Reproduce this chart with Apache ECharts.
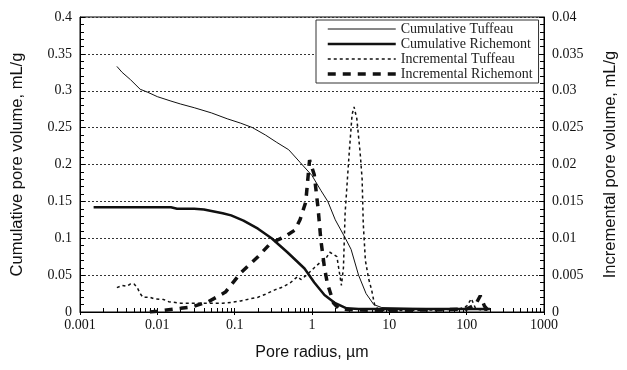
<!DOCTYPE html>
<html>
<head>
<meta charset="utf-8">
<script src="https://cdn.jsdelivr.net/npm/echarts@6/dist/echarts.min.js"></script>
<style>html,body{margin:0;padding:0;background:#fff}#c{width:627px;height:370px}</style>
</head>
<body>
<div id="c"></div>
<script>
// ---- data ----
var seriesNames = ['Cumulative Tuffeau', 'Cumulative Richemont', 'Incremental Tuffeau', 'Incremental Richemont'];
var xTickValues = [0.001, 0.01, 0.1, 1, 10, 100, 1000];
var xTickLabels = ['0.001', '0.01', '0.1', '1', '10', '100', '1000'];
var leftTickLabels = ['0', '0.05', '0.1', '0.15', '0.2', '0.25', '0.3', '0.35', '0.4'];
var rightTickLabels = ['0', '0.005', '0.01', '0.015', '0.02', '0.025', '0.03', '0.035', '0.04'];

var cumTuffR = [0.003, 0.0035, 0.0045, 0.006, 0.0075, 0.01, 0.015, 0.02, 0.03, 0.05, 0.08, 0.12, 0.17, 0.25, 0.35, 0.5, 0.7, 1.0, 1.3, 1.6, 2.0, 2.7, 3.2, 4.0, 5.0, 6.3, 8, 20, 100, 190];
var cumTuffV = [0.333, 0.325, 0.315, 0.302, 0.298, 0.292, 0.286, 0.282, 0.277, 0.270, 0.262, 0.256, 0.250, 0.240, 0.230, 0.220, 0.203, 0.185, 0.165, 0.150, 0.125, 0.100, 0.085, 0.050, 0.025, 0.010, 0.006, 0.005, 0.004, 0.003];

var cumRichR = [0.0015, 0.01, 0.015, 0.018, 0.03, 0.04, 0.05, 0.07, 0.09, 0.13, 0.2, 0.3, 0.48, 0.8, 1.07, 1.45, 2.0, 2.8, 4, 10, 100, 200];
var cumRichV = [0.142, 0.142, 0.142, 0.140, 0.140, 0.139, 0.137, 0.134, 0.131, 0.124, 0.113, 0.100, 0.081, 0.059, 0.040, 0.023, 0.012, 0.005, 0.004, 0.004, 0.004, 0.004];

var incTuffR = [0.003, 0.0035, 0.004, 0.0045, 0.005, 0.0055, 0.006, 0.0065, 0.008, 0.009, 0.012, 0.014, 0.02, 0.03, 0.05, 0.07, 0.09, 0.12, 0.16, 0.2, 0.25, 0.33, 0.42, 0.53, 0.6, 0.65, 0.72, 0.85, 1.07, 1.3, 1.5, 1.7, 1.9, 2.1, 2.25, 2.4, 2.55, 2.68, 3.0, 3.3, 3.5, 3.8, 4.2, 4.45, 4.6, 4.9, 5.4, 5.9, 6.5, 7.5, 10, 20, 50, 80, 100, 115, 130, 150, 200];
var incTuffV = [0.0033, 0.0036, 0.0035, 0.0038, 0.0038, 0.0033, 0.0025, 0.0020, 0.0020, 0.0018, 0.0017, 0.0014, 0.0012, 0.0012, 0.0012, 0.0012, 0.0013, 0.0015, 0.0018, 0.0020, 0.0024, 0.0030, 0.0034, 0.0040, 0.0045, 0.0048, 0.0044, 0.0050, 0.0060, 0.0068, 0.0072, 0.0081, 0.0078, 0.0075, 0.0055, 0.0036, 0.0060, 0.0134, 0.0210, 0.0268, 0.0278, 0.0262, 0.0215, 0.0180, 0.0120, 0.0070, 0.0045, 0.0030, 0.0008, 0.0002, 0.0002, 0.0002, 0.0003, 0.0004, 0.0008, 0.0018, 0.0005, 0.0003, 0.0002];

var incRichR = [0.008, 0.01, 0.014, 0.02, 0.028, 0.046, 0.076, 0.12, 0.2, 0.29, 0.44, 0.6, 0.7, 0.83, 0.93, 1.07, 1.2, 1.3, 1.45, 1.58, 1.9, 2.2, 3, 10, 50, 100, 130, 150, 170, 190];
var incRichV = [0, 0.0001, 0.0003, 0.0005, 0.0007, 0.0014, 0.0027, 0.0053, 0.0075, 0.0093, 0.0102, 0.0111, 0.0125, 0.0149, 0.0206, 0.0186, 0.0140, 0.0098, 0.0060, 0.0039, 0.0012, 0.0005, 0.0003, 0.0002, 0.0003, 0.0004, 0.0010, 0.0022, 0.0008, 0.0002];

// minor ticks for the log axis
var minorMultipliers = [2, 3, 4, 5, 6, 7, 8, 9];

function pairs(xs, ys) { return xs.map(function (x, i) { return [x, ys[i]]; }); }
var minorX = [];
xTickValues.slice(0, -1).forEach(function (d) { minorMultipliers.forEach(function (m) { minorX.push(+(d * m).toPrecision(3)); }); });

var serif = 'Liberation Serif';
var sans = 'Liberation Sans';

var lineStyles = [
  { color: '#111', width: 1, type: 'solid' },
  { color: '#111', width: 2.5, type: 'solid' },
  { color: '#111', width: 1.5, type: [3, 3] },
  { color: '#111', width: 3.5, type: [8, 7] }
];
var yIdx = [0, 0, 1, 1];
var dataSets = [pairs(cumTuffR, cumTuffV), pairs(cumRichR, cumRichV), pairs(incTuffR, incTuffV), pairs(incRichR, incRichV)];

var chart = echarts.init(document.getElementById('c'), null, { renderer: 'canvas' });
chart.setOption({
  animation: false,
  backgroundColor: '#fff',
  grid: { left: 80, right: 78, top: 17, bottom: 58, show: true, borderColor: '#000', borderWidth: 1, backgroundColor: 'transparent' },
  legend: {
    data: seriesNames.map(function (n, i) {
      return { name: n, lineStyle: { width: lineStyles[i].width, type: lineStyles[i].type, color: '#111' } };
    }),
    orient: 'vertical',
    left: 316, top: 20,
    itemWidth: 68, itemHeight: 12, itemGap: 1,
    padding: [2, 6, 2, 10],
    borderColor: '#333', borderWidth: 1,
    backgroundColor: '#fff',
    itemStyle: { color: 'transparent', borderWidth: 0, opacity: 0 },
    textStyle: { fontFamily: serif, fontSize: 14, color: '#222' }
  },
  xAxis: [{
    type: 'log', logBase: 10, min: 0.001, max: 1000,
    name: 'Pore radius, µm', nameLocation: 'middle', nameGap: 33,
    nameTextStyle: { fontFamily: sans, fontSize: 16, color: '#111' },
    axisLine: { lineStyle: { color: '#000', width: 1 } },
    axisTick: { show: true, inside: false, length: 3, lineStyle: { color: '#000' } },
    axisLabel: { fontFamily: serif, fontSize: 14, color: '#111', margin: 6,
      formatter: function (v) { var i = xTickValues.findIndex(function (t) { return Math.abs(Math.log10(t) - Math.log10(v)) < 1e-6; }); return i >= 0 ? xTickLabels[i] : ''; } },
    splitLine: { show: false }
  }, {
    type: 'log', logBase: 10, min: 0.001, max: 1000, position: 'bottom', gridIndex: 0,
    axisLine: { show: false },
    axisTick: { show: true, inside: true, length: 4, customValues: minorX.concat(xTickValues), lineStyle: { color: '#000' } },
    axisLabel: { show: false },
    splitLine: { show: false }
  }],
  yAxis: [{
    type: 'value', min: 0, max: 0.4, interval: 0.05, position: 'left',
    name: 'Cumulative pore volume, mL/g', nameLocation: 'middle', nameGap: 54,
    nameTextStyle: { fontFamily: sans, fontSize: 16.5, color: '#111' },
    axisLine: { show: true, lineStyle: { color: '#000' } },
    axisTick: { show: true, inside: true, length: 5, lineStyle: { color: '#000' } },
    minorTick: { show: true, splitNumber: 5, length: 4, lineStyle: { color: '#000' } },
    axisLabel: { fontFamily: serif, fontSize: 14, color: '#111', margin: 8,
      formatter: function (v) { return leftTickLabels[Math.round(v / 0.05)]; } },
    splitLine: { show: true, lineStyle: { color: '#333', type: [2, 2], width: 1 } }
  }, {
    type: 'value', min: 0, max: 0.04, interval: 0.005, position: 'right',
    name: 'Incremental pore volume, mL/g', nameLocation: 'middle', nameGap: 58, nameRotate: 90,
    nameTextStyle: { fontFamily: sans, fontSize: 16.5, color: '#111' },
    axisLine: { show: true, lineStyle: { color: '#000' } },
    axisTick: { show: true, inside: true, length: 5, lineStyle: { color: '#000' } },
    minorTick: { show: true, splitNumber: 5, length: 4, lineStyle: { color: '#000' } },
    axisLabel: { fontFamily: serif, fontSize: 14, color: '#111', margin: 8,
      formatter: function (v) { return rightTickLabels[Math.round(v / 0.005)]; } },
    splitLine: { show: false }
  }],
  series: seriesNames.map(function (n, i) {
    return {
      name: n, type: 'line', yAxisIndex: yIdx[i], symbol: 'none', legendIcon: 'none',
      data: dataSets[i], lineStyle: lineStyles[i], itemStyle: { color: '#111' }
    };
  })
});
</script>
</body>
</html>
